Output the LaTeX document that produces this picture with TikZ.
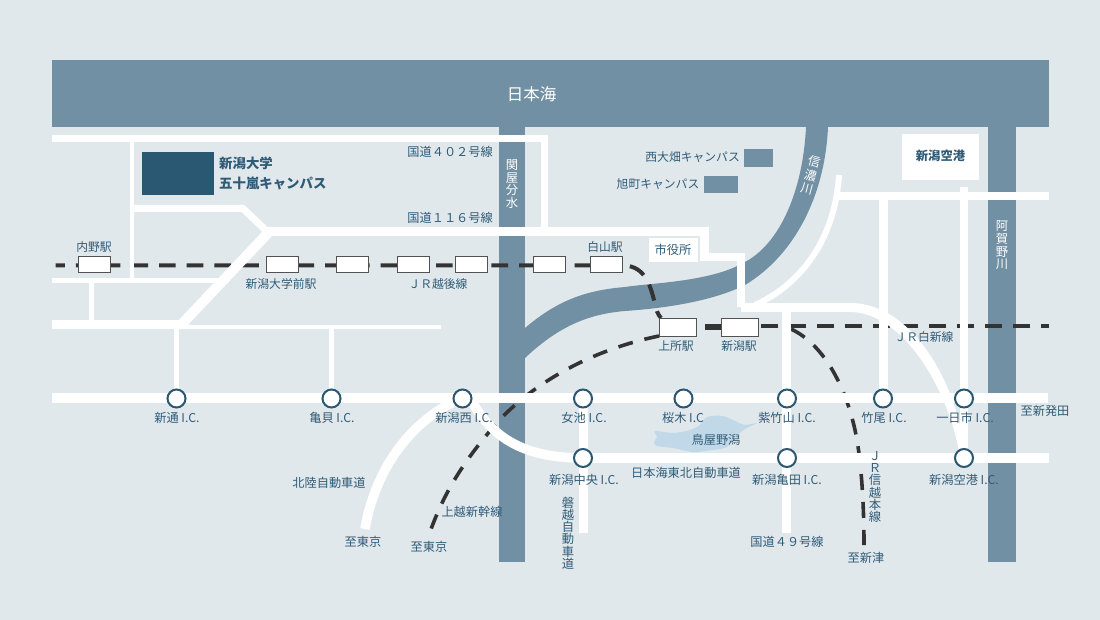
\documentclass[tikz,border=0pt]{standalone}
\usepackage{fontspec}
\setmainfont{Noto Sans CJK JP}
\definecolor{bgblue}{HTML}{E1E8EC}
\definecolor{riverblue}{HTML}{7290A4}
\definecolor{darkblue}{HTML}{2A5772}
\definecolor{labelblue}{HTML}{2F5B77}
\definecolor{lakeblue}{HTML}{C0D8E8}
\definecolor{railgray}{HTML}{333333}
\tikzset{
  river/.style={fill=riverblue},
  road/.style={draw=white, line join=miter},
  rail/.style={draw=railgray, line width=4pt, dash pattern=on 16.7pt off 11pt},
  ic/.style={circle, draw=darkblue, line width=2pt, fill=white, minimum size=18pt, inner sep=0pt},
  station/.style={draw=railgray!85, line width=1pt, fill=white, minimum width=32pt, minimum height=16pt, inner sep=0pt},
  stationbig/.style={station, minimum width=37pt, minimum height=18pt},
  lbl/.style={text=labelblue, inner sep=0pt, font=\fontsize{12.2}{14}\selectfont},
  lblsmall/.style={lbl, font=\fontsize{11.8}{14}\selectfont},
  lblbold/.style={lbl, font=\fontsize{13.4}{15}\selectfont\bfseries},
  riverlbl/.style={text=white, inner sep=0pt, align=center, font=\fontsize{12.3}{12.7}\selectfont},
  vlbl/.style={lbl, align=center, font=\fontsize{12.3}{12.2}\selectfont}
}
\begin{document}
\begin{tikzpicture}[x=1pt,y=-1pt]
\fill[bgblue] (0,0) rectangle (1100,620);
\useasboundingbox (0,0) rectangle (1100,620);

% rivers and sea
\fill[river] (499,127) rectangle (525,562);
\fill[river] (988,127) rectangle (1016,562);
\fill[river] (806,127) .. controls (803,190) and (780,245) .. (743,263) .. controls (710,282) and (650,283) .. (625,287) .. controls (590,290) and (560,298) .. (525,328) -- (525,358) .. controls (560,325) and (590,314) .. (625,311) .. controls (670,308) and (715,300) .. (745,285) .. controls (795,255) and (825,195) .. (828,127) -- cycle;
\fill[river] (52,60) rectangle (1049,127);
\fill[lakeblue] plot[smooth cycle] coordinates {(655,431) (673,433) (690,430) (700,425) (707,417) (723,416) (737,422) (745,425) (757,423) (745,429) (735,437) (727,447) (713,450) (693,452) (673,448) (657,446) (654,442) (657,437)};

% railways
\draw[rail, dash phase=7.5pt] (55.7,265.5) -- (625,265.5) .. controls (645,267) and (650,285) .. (654,300) .. controls (656,310) and (658,315) .. (661,318);
\draw[rail, dash phase=0pt] (705,327.5) -- (721,327.5);
\draw[rail, dash pattern=on 17pt off 11pt] (705,326) -- (1049,326);
\draw[rail, line width=3.6pt, dash pattern=on 15pt off 12pt] (659,336) .. controls (590,350) and (530,385) .. (495,425) .. controls (465,460) and (445,490) .. (430,532);
\draw[rail, line width=3.6pt, dash pattern=on 16pt off 12pt] (791,329) .. controls (825,345) and (848,390) .. (857,440) .. controls (862,470) and (864,510) .. (864,545);

% roads
\draw[road, line width=7pt] (52,138.5) -- (544.5,138.5) -- (544.5,228);
\draw[road, line width=4.5pt] (132,136) -- (132,280);
\draw[road, line width=7pt] (132,208.5) -- (243,208.5) -- (267,231.5);
\draw[road, line width=8.5pt] (263,231.5) -- (704.5,231.5) -- (704.5,257) -- (741,257) -- (741,307);
\draw[road, line width=10pt] (269,232) -- (180,326);
\draw[road, line width=5pt] (52,280.5) -- (218,280.5);
\draw[road, line width=5pt] (91.5,283) -- (91.5,320);
\draw[road, line width=9pt] (52,324.5) -- (182,324.5);
\draw[road, line width=4.5pt] (182,327) -- (441,327);
\draw[road, line width=4.5pt] (176.5,329) -- (176.5,398);
\draw[road, line width=4.5pt] (331.5,329) -- (331.5,398);
\draw[road, line width=10pt] (52,398) -- (1048,398);
\draw[road, line width=10pt] (575,458) -- (1049,458);
\draw[road, line width=9.5pt] (462,398) .. controls (410,420) and (375,470) .. (365,529);
\draw[road, line width=9.5pt] (470,398) .. controls (490,435) and (520,458) .. (583,458);
\draw[road, line width=9pt] (583.5,403) -- (583.5,533);
\draw[road, line width=9pt] (786.5,303) -- (786.5,533);
\draw[road, line width=9pt] (741,307.5) -- (850,307.5);
\fill[white] (850,303) .. controls (915,303) and (960,390) .. (965,458) -- (960,458) .. controls (951,395) and (905,312) .. (850,312) -- cycle;
\draw[road, line width=6pt] (839,175) .. controls (835,240) and (800,285) .. (755,305);
\draw[road, line width=8pt] (836,196) -- (1049,196);
\draw[road, line width=9pt] (883,200) -- (883,393);
\draw[road, line width=8pt] (964,187) -- (964,458);

% buildings
\fill[darkblue] (142,152) rectangle (214,195);
\fill[riverblue] (744,149) rectangle (773,167);
\fill[riverblue] (703.5,176) rectangle (737.5,193);
\fill[white] (902,134) rectangle (979,180);
\fill[white] (649,238) rectangle (698,262);

% interchanges
\node (ICshindori) at (176.5,398.5) [ic] {};
\node (ICkamegai) at (331.5,398.5) [ic] {};
\node (ICnishi) at (462.5,398.5) [ic] {};
\node (ICmeike) at (583,398.5) [ic] {};
\node (ICsakuragi) at (683.5,398.5) [ic] {};
\node (ICshichiku) at (787,398.5) [ic] {};
\node (ICtakeo) at (883,398.5) [ic] {};
\node (ICichinichi) at (964,398.5) [ic] {};
\node (ICchuo) at (583,458) [ic] {};
\node (ICkameda) at (787,458) [ic] {};
\node (ICkuko) at (964,458) [ic] {};

% stations
\node (STuchino) at (94,265) [station] {};
\node (STmae) at (282,265) [station] {};
\node (STb) at (352.5,265) [station] {};
\node (STc) at (413,265) [station] {};
\node (STd) at (471.5,265) [station] {};
\node (STe) at (549,265) [station] {};
\node (SThakusan) at (606,265) [station] {};
\node (STjosho) at (677.5,327) [stationbig] {};
\node (STniigata) at (739.5,327) [stationbig] {};

% labels
\node (Lsea) at (531.5,94) [text=white, inner sep=0pt, font=\fontsize{16.5}{18}\selectfont] {日本海};
\node (Lsekiya) at (512,184) [riverlbl] {関\\屋\\分\\水};
\node (Lagano) at (1002,245.5) [riverlbl] {阿\\賀\\野\\川};
\node (Lshinano) at (810.5,175.5) [riverlbl, rotate=-15, font=\fontsize{12.3}{14}\selectfont] {信\\濃\\川};
\node (Luniv) at (219,163) [lblbold, anchor=west] {新潟大学};
\node (Lcampus) at (219,184) [lblbold, anchor=west] {五十嵐キャンパス};
\node (Lairport) at (940.5,156) [lblbold, font=\fontsize{12.3}{14}\selectfont\bfseries] {新潟空港};
\node (Lr402) at (493,152) [lbl, anchor=east] {国道４０２号線};
\node (Lr116) at (493,218) [lbl, anchor=east] {国道１１６号線};
\node (Lnishi) at (740,157) [lblsmall, anchor=east] {西大畑キャンパス};
\node (Lasahi) at (699.5,184) [lblsmall, anchor=east] {旭町キャンパス};
\node (Lcity) at (673,250) [lbl] {市役所};
\node (Luchino) at (94,247) [lblsmall] {内野駅};
\node (Lhakusan) at (605,247) [lblsmall] {白山駅};
\node (Lmae) at (281,284) [lblsmall] {新潟大学前駅};
\node (Lechigo) at (438,284) [lblsmall] {ＪＲ越後線};
\node (Ljosho) at (676,346) [lblsmall] {上所駅};
\node (Lniigata) at (739,346) [lblsmall] {新潟駅};
\node (Lhakushin) at (924,337) [lblsmall] {ＪＲ白新線};
\node (Lshindori) at (177,418) [lbl] {新通 I.C.};
\node (Lkamegai) at (332,418) [lbl] {亀貝 I.C.};
\node (Lnishiic) at (464,418) [lbl] {新潟西 I.C.};
\node (Lmeike) at (584,418) [lbl] {女池 I.C.};
\node (Lsakuragi) at (683,418) [lbl] {桜木 I.C};
\node (Lshichiku) at (787,418) [lbl] {紫竹山 I.C.};
\node (Ltakeo) at (884,418) [lbl] {竹尾 I.C.};
\node (Lichinichi) at (965,418) [lbl] {一日市 I.C.};
\node (Lshibata) at (1045,411) [lbl] {至新発田};
\node (Llake) at (716,440) [lbl] {鳥屋野潟};
\node (Ltohoku) at (686,473) [lbl] {日本海東北自動車道};
\node (Lchuo) at (584,480) [lbl] {新潟中央 I.C.};
\node (Lkameda) at (787,480) [lbl] {新潟亀田 I.C.};
\node (Lkuko) at (964,480) [lbl] {新潟空港 I.C.};
\node (Lhokuriku) at (329,483) [lbl] {北陸自動車道};
\node (Ljoetsu) at (472,512) [lbl] {上越新幹線};
\node (Ltokyoa) at (363,542) [lbl] {至東京};
\node (Ltokyob) at (429,547) [lbl] {至東京};
\node (Lr49) at (787,542) [lbl] {国道４９号線};
\node (Lniitsu) at (866,558) [lbl] {至新津};
\node (Lbanetsu) at (568,533) [vlbl] {磐\\越\\自\\動\\車\\道};
\node (Lshinetsu) at (875,487) [vlbl] {Ｊ\\Ｒ\\信\\越\\本\\線};
\end{tikzpicture}
\end{document}
